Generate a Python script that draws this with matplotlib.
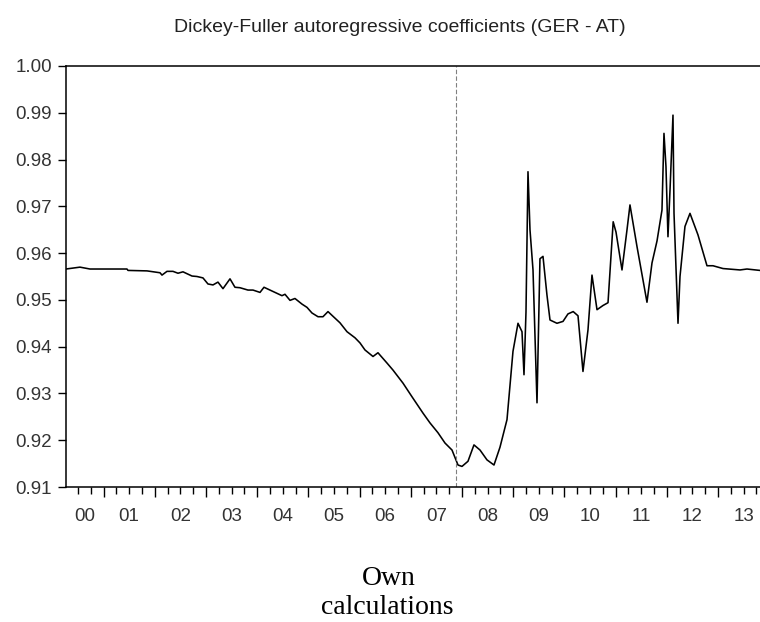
import matplotlib
matplotlib.use("Agg")
import matplotlib.pyplot as plt
from matplotlib.ticker import FixedLocator, FormatStrFormatter, NullFormatter

# Rolling Dickey-Fuller AR coefficient, GER - AT (decimal year, coefficient)
dates = [
    2000.266, 2000.539, 2000.734, 2001.457, 2001.477, 2001.848, 2002.102, 2002.141,
    2002.238, 2002.355, 2002.453, 2002.551, 2002.629, 2002.727, 2002.824, 2002.941,
    2003.039, 2003.137, 2003.234, 2003.332, 2003.469, 2003.566, 2003.664, 2003.820,
    2003.918, 2004.055, 2004.133, 2004.250, 2004.387, 2004.484, 2004.543, 2004.641,
    2004.738, 2004.875, 2004.973, 2005.070, 2005.188, 2005.285, 2005.383, 2005.480,
    2005.617, 2005.754, 2005.910, 2006.008, 2006.105, 2006.262, 2006.359, 2006.535,
    2006.652, 2006.848, 2007.023, 2007.238, 2007.375, 2007.531, 2007.668, 2007.805,
    2007.922, 2008.000, 2008.117, 2008.234, 2008.352, 2008.488, 2008.625, 2008.742,
    2008.879, 2008.996, 2009.094, 2009.172, 2009.211, 2009.250, 2009.289, 2009.328,
    2009.387, 2009.465, 2009.523, 2009.582, 2009.660, 2009.719, 2009.855, 2009.973,
    2010.070, 2010.172, 2010.266, 2010.363, 2010.461, 2010.539, 2010.637, 2010.754,
    2010.852, 2010.953, 2011.008, 2011.125, 2011.223, 2011.281, 2011.418, 2011.613,
    2011.711, 2011.809, 2011.906, 2011.945, 2011.984, 2012.023, 2012.063, 2012.121,
    2012.141, 2012.219, 2012.258, 2012.355, 2012.453, 2012.609, 2012.785, 2012.902,
    2013.098, 2013.430, 2013.566, 2013.820, 2014.172,
]
coef = [
    0.9566, 0.9570, 0.9566, 0.9566, 0.9563, 0.9562, 0.9558, 0.9553,
    0.9561, 0.9561, 0.9557, 0.9560, 0.9556, 0.9551, 0.9550, 0.9547,
    0.9534, 0.9532, 0.9538, 0.9524, 0.9545, 0.9527, 0.9526, 0.9521,
    0.9521, 0.9516, 0.9527, 0.9521, 0.9514, 0.9509, 0.9512, 0.9499,
    0.9503, 0.9491, 0.9484, 0.9472, 0.9464, 0.9464, 0.9475, 0.9465,
    0.9451, 0.9432, 0.9419, 0.9408, 0.9393, 0.9379, 0.9387, 0.9365,
    0.9350, 0.9322, 0.9293, 0.9258, 0.9237, 0.9216, 0.9194, 0.9179,
    0.9147, 0.9144, 0.9155, 0.9190, 0.9179, 0.9158, 0.9147, 0.9185,
    0.9244, 0.9390, 0.9450, 0.9432, 0.9340, 0.9474, 0.9774, 0.9650,
    0.9564, 0.9280, 0.9588, 0.9593, 0.9510, 0.9457, 0.9450, 0.9454,
    0.9470, 0.9475, 0.9466, 0.9347, 0.9436, 0.9553, 0.9479, 0.9488,
    0.9494, 0.9667, 0.9645, 0.9564, 0.9650, 0.9703, 0.9614, 0.9495,
    0.9579, 0.9626, 0.9692, 0.9856, 0.9785, 0.9635, 0.9735, 0.9895,
    0.9685, 0.9450, 0.9550, 0.9657, 0.9685, 0.9639, 0.9573, 0.9573,
    0.9567, 0.9564, 0.9566, 0.9563, 0.9563,
]
years = list(range(2000, 2014))
year_labels = [f"{y % 100:02d}" for y in years]
y_ticks = [0.91, 0.92, 0.93, 0.94, 0.95, 0.96, 0.97, 0.98, 0.99, 1.00]
break_date = 2007.883

x_min, x_max = 2000.266, 2014.172

plt.rcParams['font.family'] = ['Liberation Sans', 'DejaVu Sans']

fig = plt.figure(figsize=(7.6, 6.22), dpi=100)
# axes run past the right edge of the canvas
ax = fig.add_axes([66 / 760, 135 / 622, 712 / 760, 421 / 622])

ax.plot(dates, coef, color='black', lw=1.15)
ax.axvline(break_date, color='#808080', lw=0.8, ls=(0, (4, 2)))

ax.set_xlim(x_min, x_max)
ax.set_ylim(0.91, 1.00)

for side in ['left', 'top', 'bottom', 'right']:
    ax.spines[side].set_linewidth(1.1)
    ax.spines[side].set_color('black')

ax.yaxis.set_major_locator(FixedLocator(y_ticks))
ax.yaxis.set_major_formatter(FormatStrFormatter('%.2f'))
ax.tick_params(axis='y', direction='out', length=6, width=1.0,
               labelsize=13.5, labelcolor='#333333', pad=4)

# year boundaries as major ticks, quarters as minor ticks
ax.xaxis.set_major_locator(FixedLocator([y for y in years + [2014] if y >= x_min]))
ax.xaxis.set_minor_locator(FixedLocator([y + q / 4 for y in years for q in (1, 2, 3)]))
ax.xaxis.set_major_formatter(NullFormatter())
ax.tick_params(axis='x', which='major', direction='out', length=7.5, width=1.0)
ax.tick_params(axis='x', which='minor', direction='out', length=5, width=1.0)

# year labels centred on the visible part of each year
for y, lab in zip(years, year_labels):
    lo, hi = max(y, x_min), min(y + 1, x_max)
    ax.annotate(lab, xy=((lo + hi) / 2, 0), xycoords=('data', 'axes fraction'),
                xytext=(0, -21), textcoords='offset points',
                ha='center', va='center', fontsize=13.5, color='#333333')

fig.text(400 / 760, 1 - 27 / 622, 'Dickey-Fuller autoregressive coefficients (GER - AT)',
         ha='center', va='center', fontsize=14, color='#222222')

fig.text(389 / 760, 1 - 585 / 622, 'Own', ha='center', va='baseline',
         fontsize=20, family=['Liberation Serif', 'DejaVu Serif'])
fig.text(387 / 760, 1 - 614 / 622, 'calculations', ha='center', va='baseline',
         fontsize=20, family=['Liberation Serif', 'DejaVu Serif'])

fig.savefig('out.png', dpi=100)
